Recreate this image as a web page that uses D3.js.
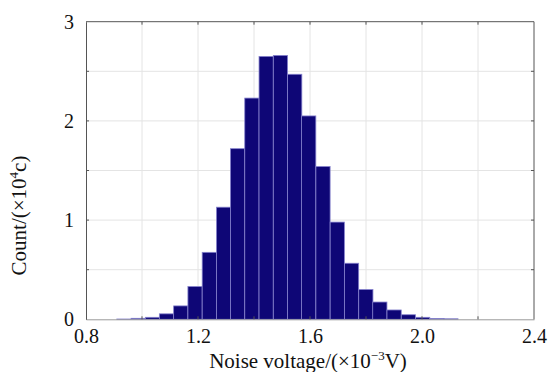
<!DOCTYPE html>
<html lang="en">
<head>
<meta charset="utf-8">
<title>Noise voltage histogram</title>
<script src="https://cdn.jsdelivr.net/npm/d3@7"></script>
<style>
  body { margin: 0; background: #fff; }
  svg text { font-family: "Liberation Serif", "Times New Roman", serif; fill: #111; }
</style>
</head>
<body>
<div id="chart"></div>
<script>
// bin left edges (x 10^-3 V) and counts (x 10^4)
const binLefts = [0.910, 0.961, 1.012, 1.062, 1.113, 1.164, 1.215, 1.266, 1.316, 1.367, 1.418, 1.469,
                  1.520, 1.570, 1.621, 1.672, 1.723, 1.774, 1.824, 1.875, 1.926, 1.977, 2.028, 2.078];
const binWidth = 0.0508;
const counts = [0.003, 0.01, 0.02, 0.055, 0.135, 0.33, 0.675, 1.13, 1.72, 2.23, 2.65, 2.66,
                2.47, 2.05, 1.54, 0.98, 0.565, 0.30, 0.174, 0.094, 0.046, 0.02, 0.008, 0.005];
const xTicks = [0.8, 1.2, 1.6, 2.0, 2.4];
const xGrid = [0.8, 1.0, 1.2, 1.4, 1.6, 1.8, 2.0, 2.2, 2.4];
const yTicks = [0, 1, 2, 3];
const yGrid = [0, 0.5, 1, 1.5, 2, 2.5, 3];

const w = 551, h = 372;
const pLeft = 86, pRight = 534, pTop = 21.7, pBottom = 319.3;

const svg = d3.select("#chart").append("svg")
  .attr("width", w)
  .attr("height", h);

const x = d3.scaleLinear().domain([0.8, 2.4]).range([pLeft, pRight]);
const y = d3.scaleLinear().domain([0, 3]).range([pBottom, pTop]);

// grid
svg.append("g").selectAll("line")
  .data(xGrid.slice(1, -1))
  .join("line")
  .attr("x1", d => x(d)).attr("x2", d => x(d))
  .attr("y1", pTop).attr("y2", pBottom)
  .attr("stroke", "#e4e4e4").attr("stroke-width", 1);

svg.append("g").selectAll("line")
  .data(yGrid.slice(1, -1))
  .join("line")
  .attr("x1", pLeft).attr("x2", pRight)
  .attr("y1", d => y(d)).attr("y2", d => y(d))
  .attr("stroke", "#e4e4e4").attr("stroke-width", 1);

// bars
const bins = binLefts.map((b, i) => ({x0: b, x1: b + binWidth, v: counts[i]}));
svg.append("g").selectAll("rect")
  .data(bins)
  .join("rect")
  .attr("x", d => x(d.x0))
  .attr("width", d => x(d.x1) - x(d.x0))
  .attr("y", d => y(d.v))
  .attr("height", d => y(0) - y(d.v))
  .attr("fill", "#0e0676")
  .attr("stroke", "#8480cc")
  .attr("stroke-width", 0.8);

// frame with inward ticks
const xAxis = d3.axisBottom(x).tickValues(xTicks).tickSize(0).tickPadding(7).tickFormat(d3.format(".1f"));
const yAxis = d3.axisLeft(y).tickValues(yTicks).tickSize(0).tickPadding(12).tickFormat(d3.format("d"));

const gx = svg.append("g")
  .attr("transform", "translate(0," + pBottom + ")")
  .call(xAxis);
gx.select(".domain").attr("stroke", "#999");
gx.selectAll("text").attr("font-size", 20).attr("dy", "0.85em");

const gy = svg.append("g")
  .attr("transform", "translate(" + pLeft + ",0)")
  .call(yAxis);
gy.select(".domain").attr("stroke", "#555");
gy.selectAll("text").attr("font-size", 20);

svg.append("line")
  .attr("x1", pLeft).attr("x2", pRight).attr("y1", pTop).attr("y2", pTop)
  .attr("stroke", "#555");
svg.append("line")
  .attr("x1", pRight).attr("x2", pRight).attr("y1", pTop).attr("y2", pBottom)
  .attr("stroke", "#555");

const tickLen = 3;
const ticks = svg.append("g").attr("stroke", "#555");
xGrid.slice(1, -1).forEach(v => {
  ticks.append("line").attr("x1", x(v)).attr("x2", x(v)).attr("y1", pTop).attr("y2", pTop + tickLen);
  ticks.append("line").attr("x1", x(v)).attr("x2", x(v)).attr("y1", pBottom).attr("y2", pBottom - tickLen);
});
yGrid.slice(1, -1).forEach(v => {
  ticks.append("line").attr("x1", pLeft).attr("x2", pLeft + tickLen).attr("y1", y(v)).attr("y2", y(v));
  ticks.append("line").attr("x1", pRight).attr("x2", pRight - tickLen).attr("y1", y(v)).attr("y2", y(v));
});

// axis titles
const xt = svg.append("text")
  .attr("x", (pLeft + pRight) / 2 - 2)
  .attr("y", 368)
  .attr("text-anchor", "middle")
  .attr("font-size", 21);
xt.append("tspan").text("Noise voltage/(\u00d710");
xt.append("tspan").attr("font-size", 13).attr("dy", -8).text("\u22123");
xt.append("tspan").attr("dy", 8).text("V)");

const yt = svg.append("text")
  .attr("transform", "translate(26," + ((pTop + pBottom) / 2 + 45) + ") rotate(-90)")
  .attr("text-anchor", "middle")
  .attr("font-size", 21);
yt.append("tspan").text("Count/(\u00d710");
yt.append("tspan").attr("font-size", 13).attr("dy", -8).text("4");
yt.append("tspan").attr("dy", 8).text("c)");
</script>
</body>
</html>
